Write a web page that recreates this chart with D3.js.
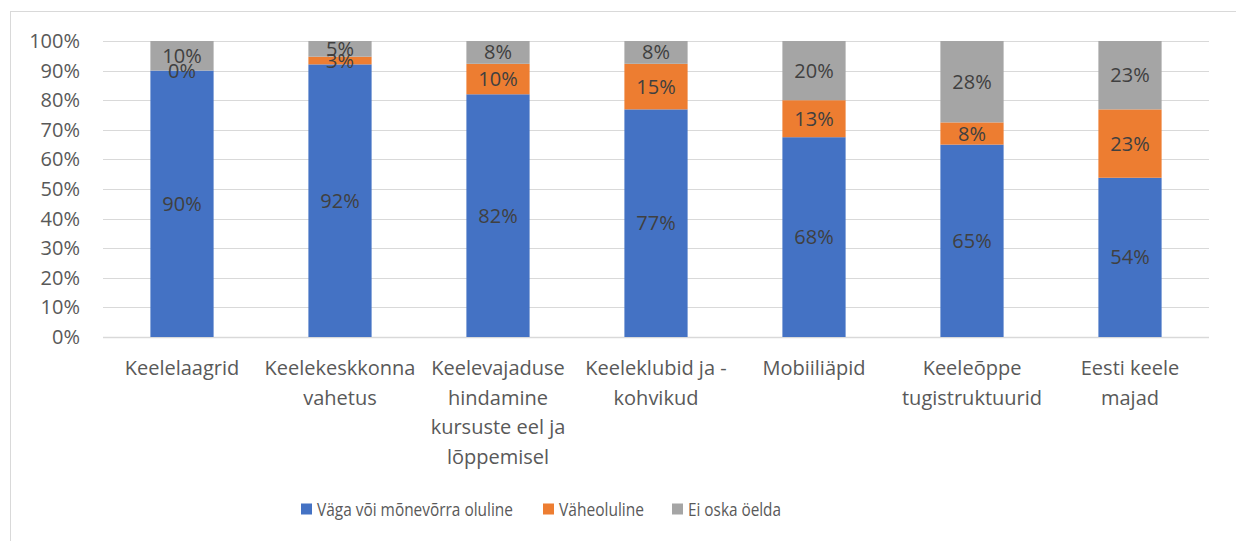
<!DOCTYPE html>
<html>
<head>
<meta charset="utf-8">
<script src="https://cdn.jsdelivr.net/npm/d3@7"></script>
<style>
  html, body { margin: 0; padding: 0; background: #fff; }
  svg { display: block; font-family: "Open Sans", "Noto Sans", sans-serif; }
</style>
</head>
<body>
<svg id="chart" width="1236" height="541"></svg>
<script>
// Categories (multi-line labels split on \n)
const categories = [
  "Keelelaagrid",
  "Keelekeskkonna\nvahetus",
  "Keelevajaduse\nhindamine\nkursuste eel ja\nlõppemisel",
  "Keeleklubid ja -\nkohvikud",
  "Mobiiliäpid",
  "Keeleõppe\ntugistruktuurid",
  "Eesti keele\nmajad"
];

// Series values (percent)
const important = [90, 92.1, 82.0, 76.9, 67.5, 65.0, 53.8];
const minor     = [0, 2.6, 10.3, 15.4, 12.5, 7.5, 23.1];
const unsure    = [10, 5.3, 7.7, 7.7, 20.0, 27.5, 23.1];

const seriesNames  = ["Väga või mõnevõrra oluline", "Väheoluline", "Ei oska öelda"];
const seriesColors = ["#4472c4", "#ed7d31", "#a5a5a5"];
const yTicks = [0, 10, 20, 30, 40, 50, 60, 70, 80, 90, 100];

const W = 1236, H = 541;
const plot = { left: 103, right: 1209, top: 41, bottom: 337 };
const FS = 20;

const svg = d3.select("#chart");

// chart frame
svg.append("rect")
  .attr("x", 10.5).attr("y", 11.5)
  .attr("width", W + 10).attr("height", H + 10)
  .attr("fill", "none").attr("stroke", "#d9d9d9").attr("stroke-width", 1);

const x = d3.scaleBand()
  .domain(d3.range(categories.length))
  .range([plot.left, plot.right])
  .paddingInner(0.6).paddingOuter(0.3);

const y = d3.scaleLinear().domain([0, 100]).range([plot.bottom, plot.top]);

// gridlines
svg.append("g")
  .selectAll("line")
  .data(yTicks)
  .join("line")
    .attr("x1", plot.left).attr("x2", plot.right)
    .attr("y1", d => Math.round(y(d)) + 0.5)
    .attr("y2", d => Math.round(y(d)) + 0.5)
    .attr("stroke", "#d9d9d9").attr("stroke-width", d => d === 0 ? 1.5 : 1.2);

// y axis labels
svg.append("g")
  .selectAll("text")
  .data(yTicks)
  .join("text")
    .attr("x", 80).attr("y", d => y(d))
    .attr("dy", "0.35em")
    .attr("text-anchor", "end")
    .attr("fill", "#595959")
    .attr("font-size", FS)
    .text(d => d + "%");

// stacked data
const rows = categories.map((c, i) => ({ i, s0: important[i], s1: minor[i], s2: unsure[i] }));
const stack = d3.stack().keys(["s0", "s1", "s2"]);
const layers = stack(rows);

const layerG = svg.append("g")
  .selectAll("g")
  .data(layers)
  .join("g")
    .attr("fill", (d, k) => seriesColors[k]);

layerG.selectAll("rect")
  .data(d => d)
  .join("rect")
    .attr("x", d => x(d.data.i))
    .attr("width", x.bandwidth())
    .attr("y", d => y(d[1]))
    .attr("height", d => y(d[0]) - y(d[1]));

// data labels (drawn after all bars so none are covered)
svg.append("g")
  .selectAll("g")
  .data(layers)
  .join("g")
  .selectAll("text")
  .data(d => d)
  .join("text")
    .attr("x", d => x(d.data.i) + x.bandwidth() / 2)
    .attr("y", d => (y(d[0]) + y(d[1])) / 2)
    .attr("dy", "0.35em")
    .attr("text-anchor", "middle")
    .attr("fill", "#404040")
    .attr("font-size", FS)
    .text(d => Math.round(d[1] - d[0]) + "%");

// category labels
const catG = svg.append("g")
  .selectAll("text")
  .data(categories)
  .join("text")
    .attr("text-anchor", "middle")
    .attr("fill", "#595959")
    .attr("font-size", FS)
    .attr("transform", (d, i) => `translate(${x(i) + x.bandwidth() / 2},${375})`);

catG.selectAll("tspan")
  .data(d => d.split("\n"))
  .join("tspan")
    .attr("x", 0)
    .attr("y", (d, j) => j * 29.5)
    .text(d => d);

// legend
const legendX = [301, 543, 672];
const legendW = [196, 85, 93];
const legend = svg.append("g")
  .selectAll("g")
  .data(seriesNames)
  .join("g")
    .attr("transform", (d, k) => `translate(${legendX[k]},${509})`);

legend.append("rect")
  .attr("x", 0).attr("y", -5.5)
  .attr("width", 11).attr("height", 11)
  .attr("fill", (d, k) => seriesColors[k]);

legend.append("text")
  .attr("x", 16).attr("y", 0)
  .attr("dy", "0.35em")
  .attr("fill", "#595959")
  .attr("font-size", 19)
  .attr("textLength", (d, k) => legendW[k])
  .attr("lengthAdjust", "spacingAndGlyphs")
  .text(d => d);
</script>
</body>
</html>
